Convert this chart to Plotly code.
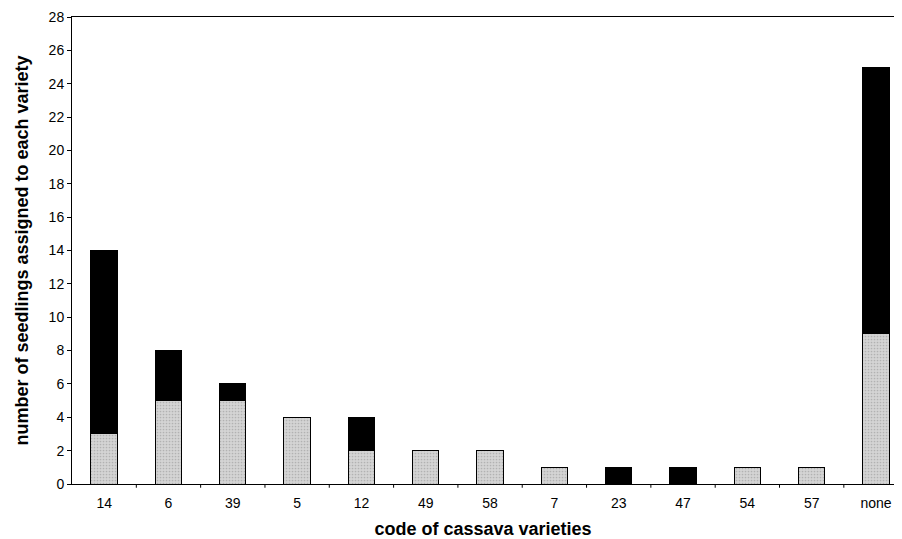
import plotly.graph_objects as go

categories = ["14", "6", "39", "5", "12", "49", "58", "7", "23", "47", "54", "57", "none"]
grey_values = [3, 5, 5, 4, 2, 2, 2, 1, 0, 0, 1, 1, 9]
black_values = [11, 3, 1, 0, 2, 0, 0, 0, 1, 1, 0, 0, 16]
y_ticks = list(range(0, 29, 2))

fig = go.Figure()
fig.add_trace(go.Bar(
    x=categories, y=grey_values, width=0.41,
    marker=dict(color="#d0d0d0", line=dict(color="black", width=1),
                pattern=dict(shape=".", fgcolor="#8f8f8f", bgcolor="#d4d4d4", size=3, solidity=0.25)),
    showlegend=False,
))
fig.add_trace(go.Bar(
    x=categories, y=black_values, width=0.41,
    marker=dict(color="black", line=dict(color="black", width=1)),
    showlegend=False,
))

fig.update_layout(
    barmode="stack",
    width=886, height=531,
    margin=dict(l=64, r=0, t=9, b=55, autoexpand=False),
    plot_bgcolor="white", paper_bgcolor="white",
    font=dict(family="Liberation Sans, Arial, sans-serif", color="black", size=14),
    xaxis=dict(
        type="category", range=[-0.5, 12.28], automargin=False,
        showline=True, linecolor="black", linewidth=1, mirror=True,
        ticks="", showgrid=False, tickfont=dict(size=14), ticklabelstandoff=6,
        title=dict(text="<b>code of cassava varieties</b>", font=dict(size=18), standoff=14),
    ),
    yaxis=dict(
        range=[0, 28], tickvals=y_ticks, automargin=False,
        showline=True, linecolor="black", linewidth=1,
        ticks="outside", ticklen=4, tickcolor="black", tickfont=dict(size=14),
        showgrid=False, zeroline=False,
        title=dict(text="<b>number of seedlings assigned to each variety</b>", font=dict(size=18), standoff=15),
    ),
)

# category boundary ticks on x-axis
for i in range(len(categories)):
    fig.add_shape(type="line", xref="x", yref="paper", x0=i + 0.5, x1=i + 0.5, y0=0, y1=-0.008,
                  line=dict(color="black", width=1))

fig.write_html("out.html")
